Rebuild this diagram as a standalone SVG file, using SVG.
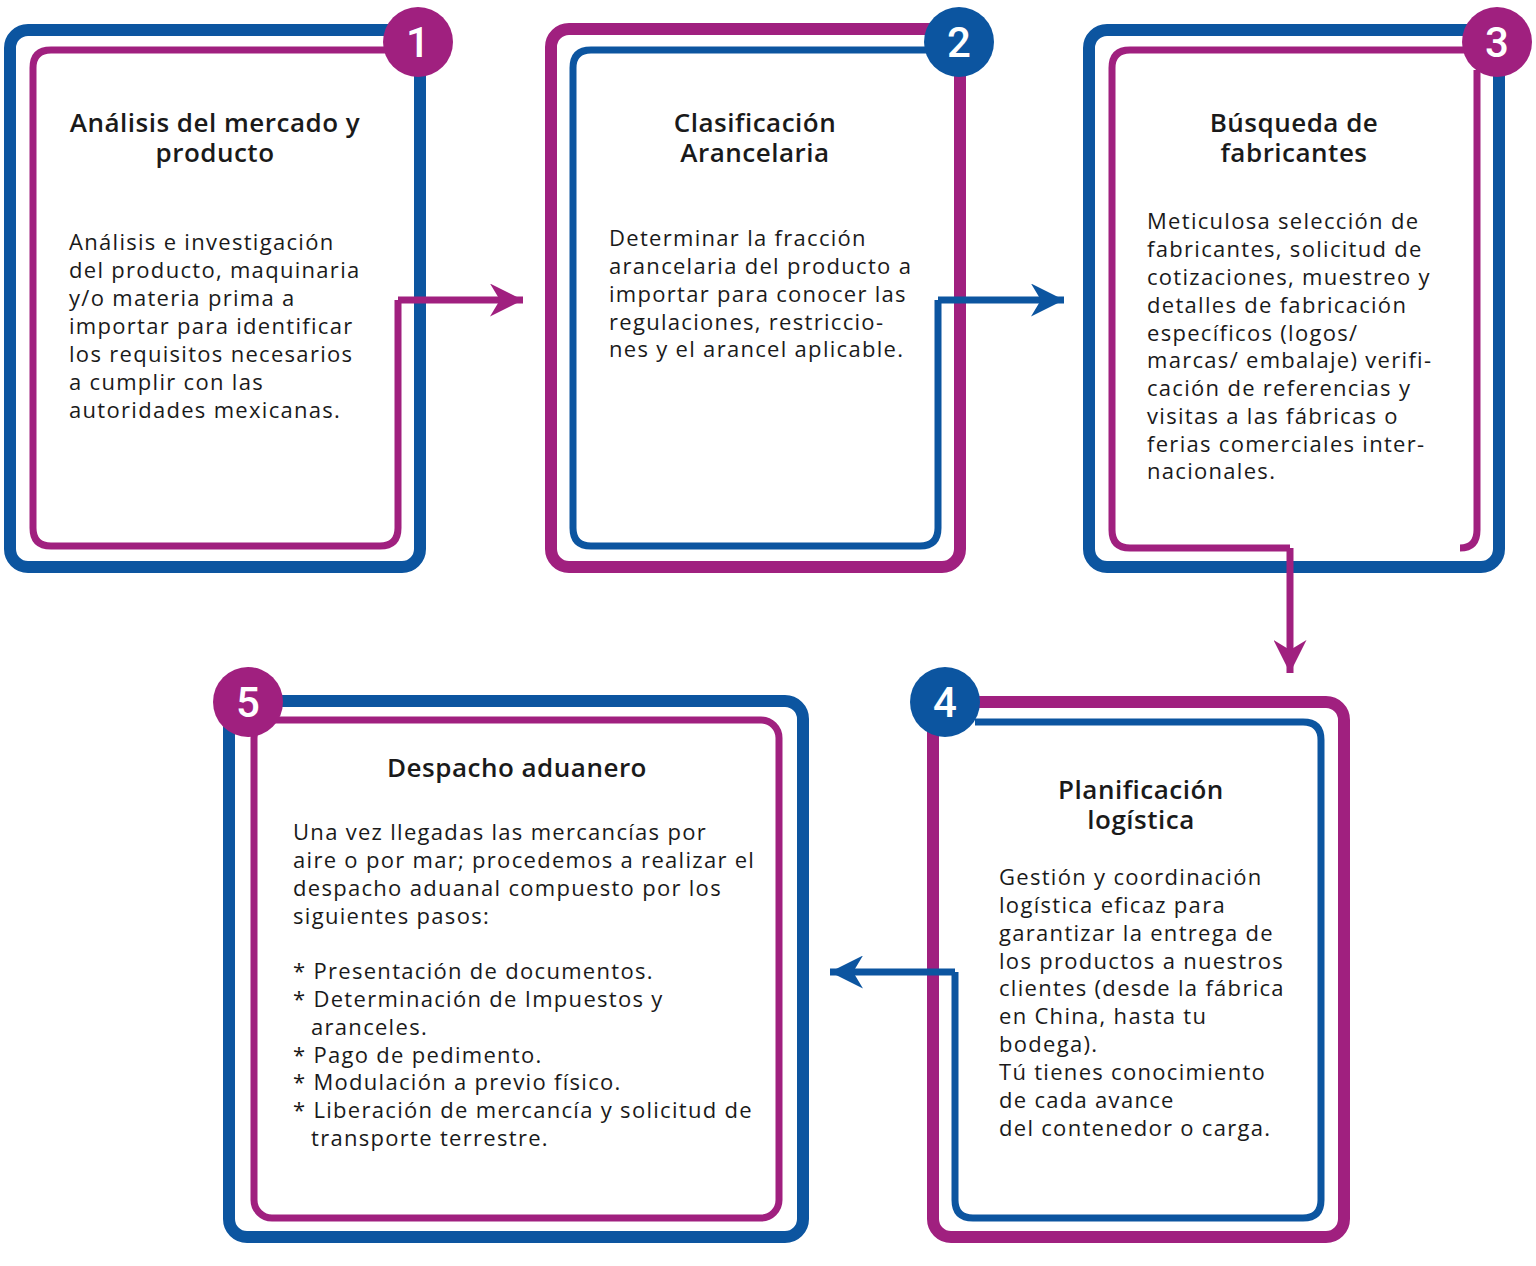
<svg xmlns="http://www.w3.org/2000/svg" width="1536" height="1266" viewBox="0 0 1536 1266">
<style>
.b{fill:none;stroke:#0c55a0}
.m{fill:none;stroke:#a0207f}
.o{stroke-width:12}
.i{stroke-width:7}
.t{font-family:"Open Sans","Liberation Sans",sans-serif;font-weight:600;font-size:26px;letter-spacing:0.5px;fill:#1a1a1a;text-anchor:middle}
.x{font-family:"Open Sans","Liberation Sans",sans-serif;font-size:22px;letter-spacing:1.3px;fill:#1a1a1a}
.n{font-family:Roboto,"Liberation Sans",sans-serif;font-weight:500;font-size:42px;fill:#fff;text-anchor:middle}
.cb{fill:#0c55a0}
.cm{fill:#a0207f}
</style>
<defs>
<marker id="ab" viewBox="0 0 10 10" refX="10" refY="5" markerWidth="33" markerHeight="33" markerUnits="userSpaceOnUse" orient="auto"><path d="M0,0 L10,5 L0,10 L3,5 Z" fill="#0c55a0"/></marker>
<marker id="am" viewBox="0 0 10 10" refX="10" refY="5" markerWidth="33" markerHeight="33" markerUnits="userSpaceOnUse" orient="auto"><path d="M0,0 L10,5 L0,10 L3,5 Z" fill="#a0207f"/></marker>
</defs>

<g id="node1">
<rect class="b o" x="10" y="30" width="410" height="537" rx="18"/>
<path class="m i" d="M390,50 H51 Q33,50 33,68 V528 Q33,546 51,546 H380 Q398,546 398,528 V300"/>
<circle class="cm" cx="418" cy="42" r="35"/>
<text class="n" x="418" y="57">1</text>
<text class="t" x="215" y="132">Análisis del mercado y<tspan x="215" dy="30">producto</tspan></text>
<text class="x" x="69" y="250">Análisis e investigación</text>
<text class="x" x="69" y="278">del producto, maquinaria</text>
<text class="x" x="69" y="306">y/o materia prima a</text>
<text class="x" x="69" y="334">importar para identificar</text>
<text class="x" x="69" y="362">los requisitos necesarios</text>
<text class="x" x="69" y="390">a cumplir con las</text>
<text class="x" x="69" y="418">autoridades mexicanas.</text>
</g>

<g id="node2">
<rect class="m o" x="551" y="29" width="409" height="538" rx="18"/>
<path class="b i" d="M930,50 H591 Q573,50 573,68 V528 Q573,546 591,546 H920 Q938,546 938,528 V300"/>
<circle class="cb" cx="959" cy="42" r="35"/>
<text class="n" x="959" y="57">2</text>
<text class="t" x="755" y="132">Clasificación<tspan x="755" dy="30">Arancelaria</tspan></text>
<text class="x" x="609" y="246">Determinar la fracción</text>
<text class="x" x="609" y="274">arancelaria del producto a</text>
<text class="x" x="609" y="302">importar para conocer las</text>
<text class="x" x="609" y="330">regulaciones, restriccio-</text>
<text class="x" x="609" y="357">nes y el arancel aplicable.</text>
</g>

<g id="node3">
<rect class="b o" x="1089" y="30" width="410" height="537" rx="18"/>
<path class="m i" d="M1470,50 H1130 Q1112,50 1112,68 V530 Q1112,548 1130,548 H1290"/>
<path class="m i" d="M1477,70 V530 Q1477,548 1460,548"/>
<circle class="cm" cx="1497" cy="42" r="35"/>
<text class="n" x="1497" y="57">3</text>
<text class="t" x="1294" y="132">Búsqueda de<tspan x="1294" dy="30">fabricantes</tspan></text>
<text class="x" x="1147" y="229">Meticulosa selección de</text>
<text class="x" x="1147" y="257">fabricantes, solicitud de</text>
<text class="x" x="1147" y="285">cotizaciones, muestreo y</text>
<text class="x" x="1147" y="313">detalles de fabricación</text>
<text class="x" x="1147" y="341">específicos (logos/</text>
<text class="x" x="1147" y="368">marcas/ embalaje) verifi-</text>
<text class="x" x="1147" y="396">cación de referencias y</text>
<text class="x" x="1147" y="424">visitas a las fábricas o</text>
<text class="x" x="1147" y="452">ferias comerciales inter-</text>
<text class="x" x="1147" y="479">nacionales.</text>
</g>

<g id="node4">
<rect class="m o" x="933" y="702" width="411" height="535" rx="18"/>
<path class="b i" d="M975,722 H1303 Q1321,722 1321,740 V1200 Q1321,1218 1303,1218 H973 Q955,1218 955,1200 V972"/>
<circle class="cb" cx="945" cy="702" r="35"/>
<text class="n" x="945" y="717">4</text>
<text class="t" x="1141" y="799">Planificación<tspan x="1141" dy="30">logística</tspan></text>
<text class="x" x="999" y="885">Gestión y coordinación</text>
<text class="x" x="999" y="913">logística eficaz para</text>
<text class="x" x="999" y="941">garantizar la entrega de</text>
<text class="x" x="999" y="969">los productos a nuestros</text>
<text class="x" x="999" y="996">clientes (desde la fábrica</text>
<text class="x" x="999" y="1024">en China, hasta tu</text>
<text class="x" x="999" y="1052">bodega).</text>
<text class="x" x="999" y="1080">Tú tienes conocimiento</text>
<text class="x" x="999" y="1108">de cada avance</text>
<text class="x" x="999" y="1136">del contenedor o carga.</text>
</g>

<g id="node5">
<rect class="b o" x="229" y="701" width="574" height="536" rx="18"/>
<rect class="m i" x="254" y="720" width="525" height="498" rx="18"/>
<circle class="cm" cx="248" cy="702" r="35"/>
<text class="n" x="248" y="717">5</text>
<text class="t" x="517" y="777">Despacho aduanero</text>
<text class="x" x="293" y="840">Una vez llegadas las mercancías por</text>
<text class="x" x="293" y="868">aire o por mar; procedemos a realizar el</text>
<text class="x" x="293" y="896">despacho aduanal compuesto por los</text>
<text class="x" x="293" y="924">siguientes pasos:</text>
<text class="x" x="293" y="979">* Presentación de documentos.</text>
<text class="x" x="293" y="1007">* Determinación de Impuestos y</text>
<text class="x" x="311" y="1035">aranceles.</text>
<text class="x" x="293" y="1063">* Pago de pedimento.</text>
<text class="x" x="293" y="1090">* Modulación a previo físico.</text>
<text class="x" x="293" y="1118">* Liberación de mercancía y solicitud de</text>
<text class="x" x="311" y="1146">transporte terrestre.</text>
</g>

<g id="connectors">
<path class="m i" d="M398,300 H523" marker-end="url(#am)"/>
<path class="b i" d="M938,300 H1064" marker-end="url(#ab)"/>
<path class="m i" d="M1290,548 V673" marker-end="url(#am)"/>
<path class="b i" d="M955,972 H830" marker-end="url(#ab)"/>
</g>
</svg>
